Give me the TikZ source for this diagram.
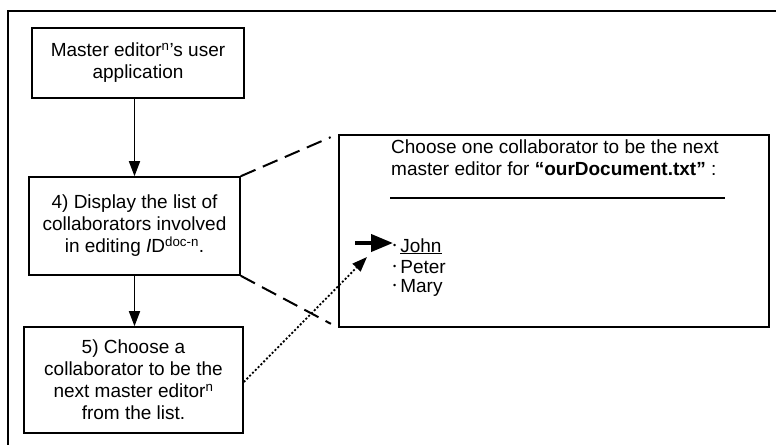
\documentclass[tikz,border=0pt]{standalone}
\usepackage{fontspec}
\setmainfont{Liberation Sans}
\usetikzlibrary{arrows.meta}
\newcommand{\itemdot}{\raisebox{3.5pt}{\fontsize{9}{9}\selectfont\textbullet}\hspace{4pt}}
\begin{document}
\begin{tikzpicture}[x=1pt,y=-1pt,
  stepbox/.style={draw, line width=1.6pt, align=center, inner sep=0pt,
    font=\fontsize{19}{22}\selectfont},
  flow/.style={line width=1.7pt, -{Triangle[length=15pt,width=11pt]}},
  zoomline/.style={line width=2pt, dash pattern=on 16pt off 8pt, shorten >=8pt},
  txt/.style={font=\fontsize{19}{22}\selectfont, inner sep=0pt},
  item/.style={txt, anchor=base west}
]
\useasboundingbox (0,0) rectangle (776,445);

% outer frame
\draw[line width=1.6pt] (776,11) -- (8,11) -- (8,445);

% process steps
\node[stepbox, minimum width=212pt, minimum height=70pt] (b1) at (138,63)
  {Master editor\textsuperscript{n}'s user\\application};
\node[stepbox, minimum width=211pt, minimum height=98pt] (b2) at (134.5,226)
  {4) Display the list of\\collaborators involved\\in editing \textit{I}D\textsuperscript{doc-n}.};
\node[stepbox, minimum width=219pt, minimum height=106pt] (b3) at (133.5,380)
  {5) Choose a\\collaborator to be the\\next master editor\textsuperscript{n}\\from the list.};

\draw[flow] (b1.south -| b2.north) -- (b2.north);
\draw[flow] (b2.south) -- (b3.north -| b2.south);

% enlarged screen
\node[draw, line width=1.6pt, minimum width=430pt, minimum height=192pt,
  anchor=north west, inner sep=0pt] (panel) at (338,134) {};
\node[item] (q1) at (391,153) {Choose one collaborator to be the next};
\node[item] (q2) at (391,175) {master editor for \textbf{“ourDocument.txt”} :};
\draw[line width=1.6pt] (390,198) -- (725,198);

\node[item] (john)  at (393,252) {\itemdot\underline{John}};
\node[item] (peter) at (393,273) {\itemdot Peter};
\node[item] (mary)  at (393,292) {\itemdot Mary};

% zoom lines
\draw[zoomline] (b2.north east) -- (panel.north west);
\draw[zoomline] (b2.south east) -- (panel.south west);

% pointer
\coordinate (ptail) at (355,243);
\draw[line width=4pt, -{Triangle[length=22pt,width=17pt]}] (ptail) -- (john.west |- ptail);

% selection link
\coordinate (pick) at (367,257);
\draw[line width=1.8pt, dash pattern=on 2pt off 2pt,
  -{Triangle[length=15pt,width=11pt]}] ([yshift=-2pt]b3.east) -- (pick);
\end{tikzpicture}
\end{document}
